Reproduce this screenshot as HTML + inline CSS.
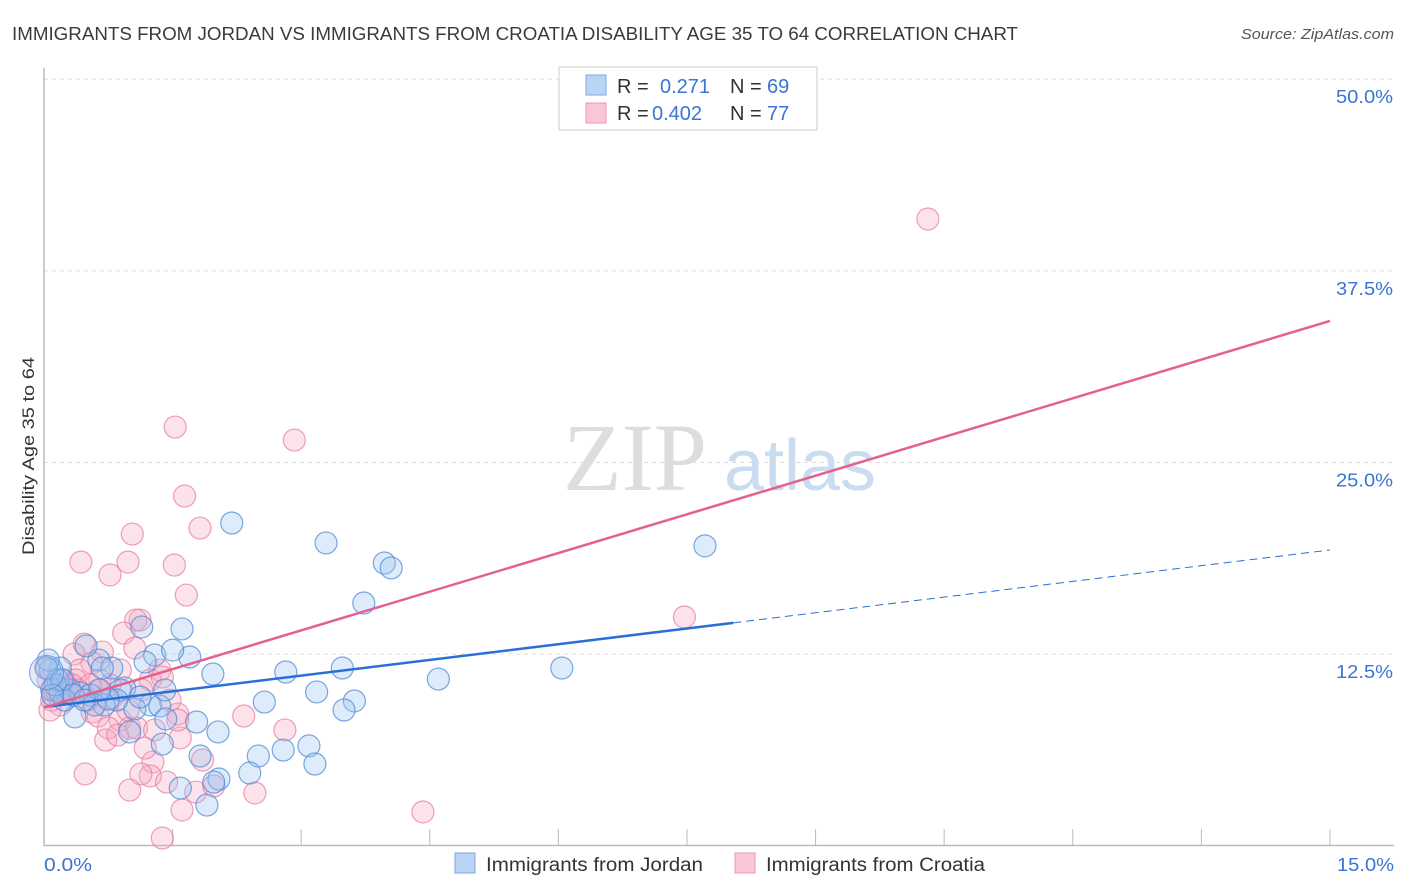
<!DOCTYPE html>
<html><head><meta charset="utf-8"><style>
body{margin:0;background:#fff;font-family:"Liberation Sans",sans-serif}
#wrap{position:relative;width:1406px;height:892px;overflow:hidden}
</style></head><body>
<div id="wrap">
<svg id="svg" width="1406" height="892" xmlns="http://www.w3.org/2000/svg">
<text x="12" y="40" font-size="18" fill="#3a3a3a" textLength="1006" lengthAdjust="spacingAndGlyphs">IMMIGRANTS FROM JORDAN VS IMMIGRANTS FROM CROATIA DISABILITY AGE 35 TO 64 CORRELATION CHART</text>
<text x="1241" y="39" font-size="15" fill="#555" font-style="italic" textLength="153" lengthAdjust="spacingAndGlyphs">Source: ZipAtlas.com</text>
<text x="635" y="490" font-size="96" fill="#ddd" font-family="Liberation Serif,serif" text-anchor="middle">ZIP</text>
<text x="800" y="490" font-size="72" fill="#c9dcf0" text-anchor="middle">atlas</text>
<text transform="translate(34,555) rotate(-90)" font-size="17" fill="#333" textLength="198" lengthAdjust="spacingAndGlyphs">Disability Age 35 to 64</text>
<g id="grid"></g><g id="pts"></g><g id="lines"></g>
<g>
<rect x="559" y="67" width="258" height="63" fill="#fff" stroke="#ccc"/>
<rect x="586" y="75" width="20" height="20" fill="#b9d4f5" stroke="#7aa8e6"/>
<rect x="586" y="103" width="20" height="20" fill="#f9c6d6" stroke="#ec96b2"/>
<text x="617" y="93" font-size="20" fill="#333">R = <tspan x="660" fill="#3a74d4">0.271</tspan><tspan x="730">N = </tspan><tspan x="767" fill="#3a74d4">69</tspan></text>
<text x="617" y="120" font-size="20" fill="#333">R = <tspan x="652" fill="#3a74d4">0.402</tspan><tspan x="730">N = </tspan><tspan x="767" fill="#3a74d4">77</tspan></text>
</g>
<rect x="455" y="853" width="20" height="20" fill="#b9d4f5" stroke="#7aa8e6"/>
<text x="486" y="871" font-size="19" fill="#333" textLength="217" lengthAdjust="spacingAndGlyphs">Immigrants from Jordan</text>
<rect x="735" y="853" width="20" height="20" fill="#f9c6d6" stroke="#ec96b2"/>
<text x="766" y="871" font-size="19" fill="#333" textLength="219" lengthAdjust="spacingAndGlyphs">Immigrants from Croatia</text>
</svg></div>
<script>
const yTicks=[12.5,25,37.5,50];
const yTickLabels=["12.5%","25.0%","37.5%","50.0%"];
const xTicks=[0,1.5,3,4.5,6,7.5,9,10.5,12,13.5,15];
const xTickLabels=["0.0%","15.0%"];
const jordanX=[2.19,3.29,3.97,4.05,3.73,7.71,1.14,1.61,6.04,4.60,3.48,2.82,1.97,1.70,1.29,1.18,1.50,0.64,0.79,0.49,0.68,3.18,2.57,3.62,3.50,0.94,0.89,1.24,1.35,1.06,1.42,1.78,2.03,1.00,0.36,0.85,0.70,3.09,2.79,2.50,1.82,1.38,2.40,3.16,2.04,1.98,1.59,1.90,0.19,0.07,0.09,0.19,0.30,0.42,0.24,0.54,0.05,0.16,0.13,0.59,1.12,0.75,1.41,0.03,0.21,0.34,0.65,0.47,0.10];
const jordanY=[21.05,19.75,18.44,18.12,15.83,19.56,14.27,14.14,11.59,10.87,11.59,11.33,11.20,12.31,12.44,11.98,12.76,12.11,11.59,13.03,11.59,10.03,9.37,9.44,8.85,10.29,10.16,9.18,9.11,8.92,8.27,8.07,7.42,7.42,8.40,9.50,9.18,6.51,6.24,5.85,5.85,6.63,4.74,5.33,4.35,4.15,3.76,2.65,11.59,11.46,10.16,9.96,10.16,9.96,9.50,9.83,12.11,10.81,10.49,9.18,9.70,9.57,10.16,11.59,10.81,9.83,10.16,9.50,9.83];
const croatiaX=[10.31,1.53,2.92,1.64,1.82,1.03,0.43,0.98,0.77,1.52,1.66,1.12,1.07,0.93,0.47,1.06,1.24,1.35,1.38,7.47,0.35,0.68,0.56,0.42,0.89,0.77,0.63,0.37,0.28,0.16,0.09,0.19,0.56,0.63,0.89,0.75,0.72,0.86,1.00,1.08,1.56,1.59,1.56,2.33,2.81,1.27,1.18,1.24,0.48,1.13,1.43,1.85,1.00,1.77,1.98,2.46,1.61,1.38,4.42,0.05,0.13,0.21,0.26,0.33,0.40,0.07,0.51,0.65,0.79,0.98,1.14,1.29,1.47,0.54,0.23,0.02,0.10];
const croatiaY=[40.88,27.31,26.46,22.81,20.72,20.33,18.50,18.50,17.66,18.31,16.35,14.72,14.72,13.87,13.15,12.89,10.81,11.46,11.00,14.92,12.50,12.63,11.92,11.46,11.46,10.49,10.16,10.81,10.29,9.83,9.50,9.18,8.72,8.46,8.20,7.68,6.89,7.22,7.68,7.68,8.59,7.03,8.20,8.46,7.55,5.46,6.37,4.55,4.68,4.68,4.15,5.59,3.63,3.50,3.89,3.44,2.33,0.50,2.20,10.81,10.16,10.49,10.03,10.49,10.16,8.85,9.50,10.81,9.63,8.85,10.16,7.55,9.50,10.49,10.81,11.6,10.3];
const jordanTrend=[9.05,19.29]; const jordanSolidEnd=8.04;
const croatiaTrend=[9.0,34.23];
const NS="http://www.w3.org/2000/svg";
const X=v=>44+v*85.73, Y=v=>845.7-v*15.33;
function mk(t,a,p){const e=document.createElementNS(NS,t);for(const k in a)e.setAttribute(k,a[k]);p.appendChild(e);return e;}
const grid=document.getElementById('grid'),pts=document.getElementById('pts'),lines=document.getElementById('lines');
yTicks.forEach((t,i)=>{
 const l=mk('line',{x1:44,x2:1394,y1:Y(t),y2:Y(t),stroke:'#ddd','stroke-dasharray':'4,4'},grid);
 
 
 const tx=mk('text',{x:1336,y:Y(t)+24,'font-size':18,fill:'#3a74d4',textLength:57,lengthAdjust:'spacingAndGlyphs'},grid);
 tx.textContent=yTickLabels[i];
 
 
});
const ax=mk('line',{x1:44,x2:1394,y1:845.5,y2:845.5,stroke:'#bbb','stroke-width':1.5},grid);


const ay=mk('line',{x1:44,x2:44,y1:68,y2:846,stroke:'#bbb','stroke-width':1.5},grid);


xTicks.forEach(t=>{if(t===0)return;
 const l=mk('line',{x1:X(t),x2:X(t),y1:829,y2:846,stroke:'#bbb'},grid);
 
 
});
[[44,48],[1337,57]].forEach((d,i)=>{
 const tx=mk('text',{x:d[0],y:871,'font-size':18,fill:'#3a74d4',textLength:d[1],lengthAdjust:'spacingAndGlyphs'},grid);
 tx.textContent=xTickLabels[i];
 
 
});
function dots(xs,ys,fill,stroke,name){
 xs.forEach((x,i)=>{
  const c=mk('circle',{cx:X(x),cy:Y(ys[i]),r:11,fill:fill,'fill-opacity':0.33,stroke:stroke,'stroke-width':1.2,'stroke-opacity':0.75},pts);
  
  
 });
}
dots(croatiaX,croatiaY,'#f5a9c1','#e87fa2','croatia-point');
dots(jordanX,jordanY,'#9cc3f0','#4f8ad8','jordan-point');
const big=mk('circle',{cx:X(0.03),cy:Y(11.3),r:17,fill:'#9cc3f0','fill-opacity':0.33,stroke:'#4f8ad8','stroke-opacity':0.75},pts);


const lj=(x)=>jordanTrend[0]+(jordanTrend[1]-jordanTrend[0])*x/15;
const b1=mk('line',{x1:X(0),y1:Y(lj(0)),x2:X(jordanSolidEnd),y2:Y(lj(jordanSolidEnd)),stroke:'#2a6fd6','stroke-width':2.5},lines);


const b2=mk('line',{x1:X(jordanSolidEnd),y1:Y(lj(jordanSolidEnd)),x2:X(15),y2:Y(lj(15)),stroke:'#2a6fd6','stroke-width':1,'stroke-dasharray':'8,5'},lines);


const p1=mk('line',{x1:X(0),y1:Y(croatiaTrend[0]),x2:X(15),y2:Y(croatiaTrend[1]),stroke:'#e4608f','stroke-width':2.5},lines);


</script>
</body></html>
